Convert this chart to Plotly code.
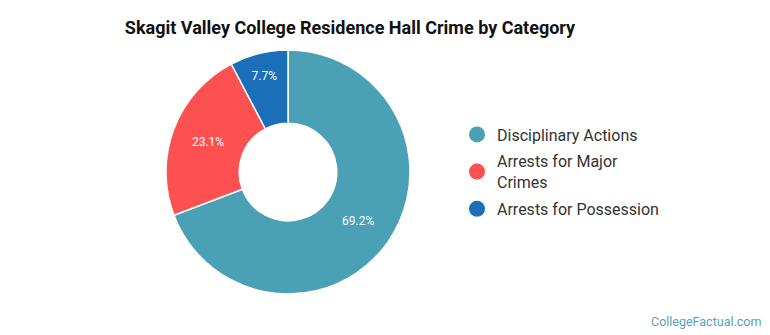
import plotly.graph_objects as go

labels = ["Disciplinary Actions", "Arrests for Major Crimes", "Arrests for Possession"]
legend_labels = ["Disciplinary Actions", "Arrests for Major<br>Crimes", "Arrests for Possession"]
values = [9, 3, 1]
colors = ["#4aa0b5", "#fd5151", "#1b6fb8"]

fig = go.Figure()
fig.add_trace(go.Pie(
    labels=labels, values=values, hole=0.4, sort=False, direction="clockwise", rotation=0,
    marker=dict(colors=colors, line=dict(color="white", width=1.5)),
    textinfo="percent", texttemplate="%{percent:.1%}", textposition="inside",
    insidetextorientation="horizontal",
    textfont=dict(family="Roboto", size=12, color="white"),
    showlegend=False, hoverinfo="label+percent",
    domain=dict(x=[166/770, 410/770], y=[1-294/335, 1-50/335]),
))
for i, (lab, col) in enumerate(zip(legend_labels, colors)):
    fig.add_trace(go.Scatter(
        x=[None], y=[None], mode="markers", name=lab, legendgroup=f"g{i}",
        marker=dict(color=col, size=16, symbol="circle"),
        showlegend=True,
    ))

fig.update_layout(
    width=770, height=335,
    margin=dict(l=0, r=0, t=0, b=0),
    paper_bgcolor="white", plot_bgcolor="white",
    xaxis=dict(visible=False), yaxis=dict(visible=False),
    title=dict(text="<b>Skagit Valley College Residence Hall Crime by Category</b>",
               x=350/770, xanchor="center", y=1-28/335, yanchor="middle",
               font=dict(family="Roboto", size=18, color="#111111")),
    legend=dict(x=457/770, xanchor="left", y=1-172/335, yanchor="middle",
                font=dict(family="Roboto", size=16, color="#333333"),
                traceorder="grouped", tracegroupgap=3,
                bgcolor="rgba(0,0,0,0)", itemclick=False),
    annotations=[dict(text="CollegeFactual.com", x=763/770, xanchor="right", y=1-321/335,
                      yanchor="middle", xref="paper", yref="paper", showarrow=False,
                      font=dict(family="Roboto", size=12.5, color="#5b9fb6"))],
)
fig.write_html("out.html")
